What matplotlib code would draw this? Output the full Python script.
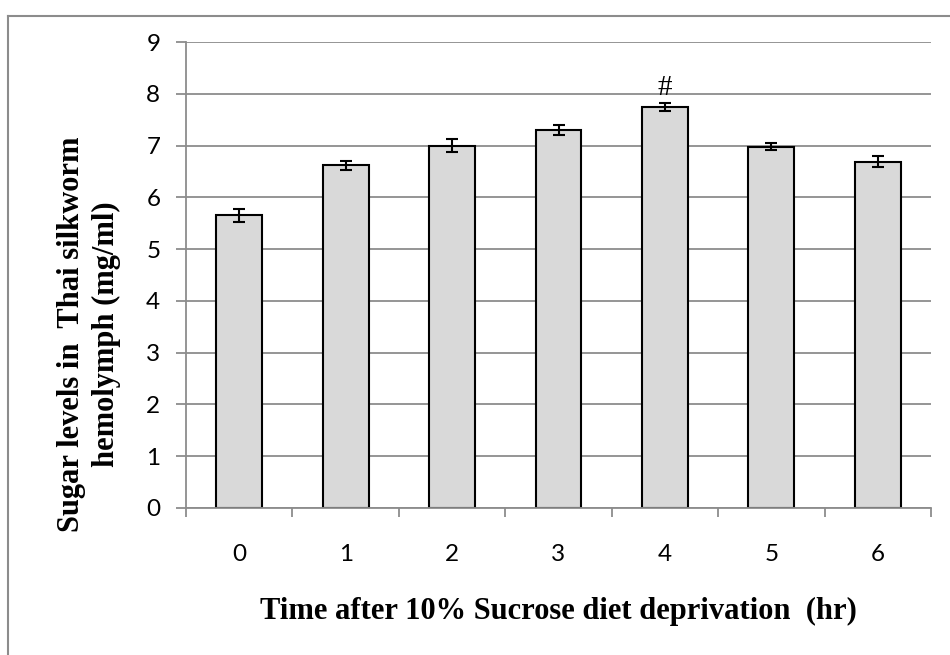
"""Sugar levels in Thai silkworm hemolymph after sucrose deprivation."""

import matplotlib
matplotlib.use("Agg")
import matplotlib.pyplot as plt
from matplotlib.lines import Line2D
import numpy as np

HOURS = ["0", "1", "2", "3", "4", "5", "6"]
SUGAR = [5.65, 6.62, 7.00, 7.30, 7.74, 6.98, 6.69]
SEM = [0.13, 0.09, 0.12, 0.09, 0.08, 0.07, 0.10]
MARK = ["", "", "", "", "#", "", ""]

GRID = "#8c8c8c"
BAR = "#d9d9d9"

fig = plt.figure(figsize=(9.5, 6.55), dpi=100)
ax = fig.add_axes([186/950, 1-508/655, (931-186)/950, (508-42)/655])

x = np.arange(len(HOURS))
ax.bar(x, SUGAR, width=0.43, color=BAR, edgecolor="black", linewidth=1.5, zorder=3)
ax.errorbar(x, SUGAR, yerr=SEM, fmt="none", ecolor="black", elinewidth=1.5,
            capsize=4.5, capthick=1.5, zorder=4)
for xi, val, err, m in zip(x, SUGAR, SEM, MARK):
    if m:
        ax.text(xi, val+err+0.04, m, ha="center", va="bottom", fontsize=21,
                family="Liberation Serif")

ax.set_xlim(-0.5, len(HOURS)-0.5); ax.set_ylim(0, 9)
ax.set_yticks(range(10))
ax.set_xticks(np.arange(-0.5, len(HOURS)), [])
ax.set_xticks(x, HOURS, minor=True)
ax.tick_params(axis="x", which="major", length=6.5, width=1.3, color=GRID, direction="out")
ax.tick_params(axis="x", which="minor", length=0, pad=26)
ax.tick_params(axis="y", length=7.5, width=1.3, color=GRID, pad=11)
for lab in ax.get_xticklabels(minor=True) + ax.get_yticklabels():
    lab.set_family("Lato"); lab.set_fontsize(17.5)
ax.grid(axis="y", color=GRID, lw=1.3, zorder=0)
for s in ("top", "right"):
    ax.spines[s].set_visible(False)
for s in ("left", "bottom"):
    ax.spines[s].set_color(GRID); ax.spines[s].set_linewidth(1.3)
ax.spines["bottom"].set_zorder(5)

fig.text(558/950, 1-611/655, "Time after 10% Sucrose diet deprivation  (hr)",
         ha="center", va="center", fontsize=22, fontweight="bold", family="Liberation Serif")
fig.text(89/950, 1-334/655, "Sugar levels in  Thai silkworm\nhemolymph (mg/ml)",
         ha="center", va="center", rotation=90, multialignment="center",
         fontsize=22, fontweight="bold", family="Liberation Serif", linespacing=1.25)

# outer chart frame (cut off at right and bottom)
fig.add_artist(Line2D([8/950, 1.01], [1-16/655]*2, color=GRID, lw=1.5))
fig.add_artist(Line2D([8/950]*2, [1-16/655, -0.01], color=GRID, lw=1.5))

fig.savefig("out.png", dpi=100)
